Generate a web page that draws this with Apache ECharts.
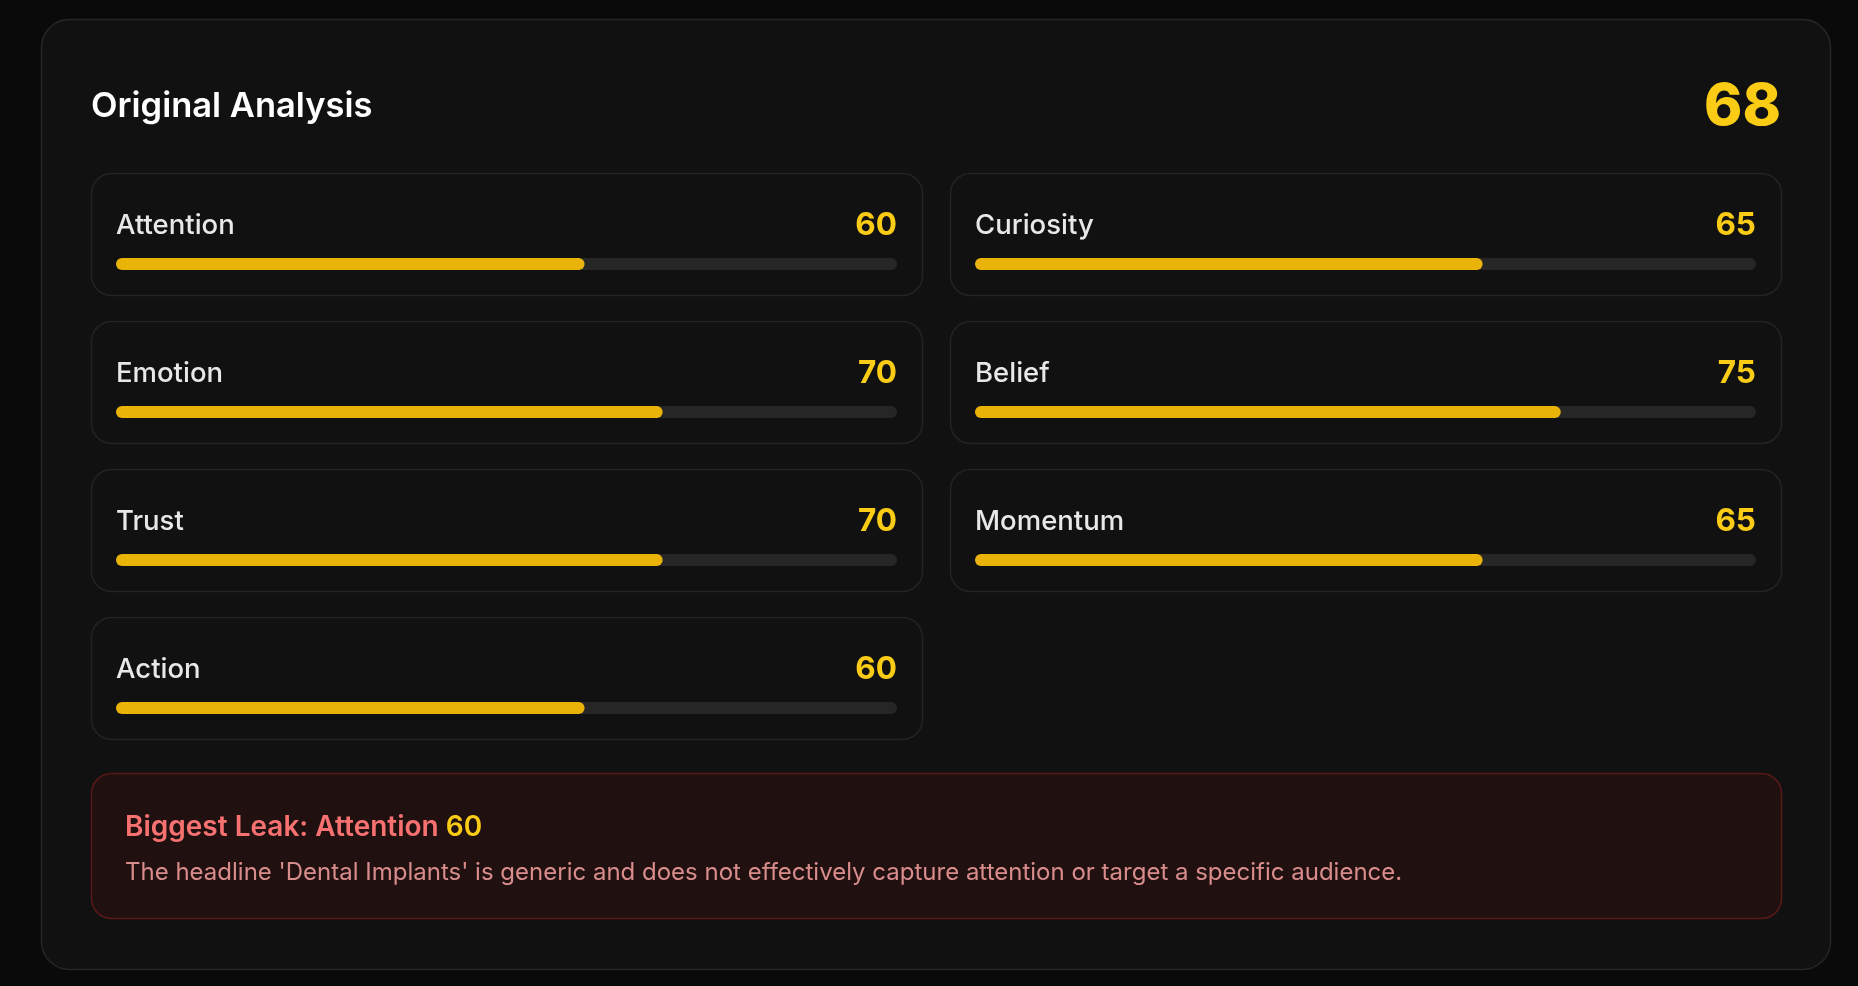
<!DOCTYPE html>
<html>
<head>
<meta charset="utf-8">
<script src="https://cdn.jsdelivr.net/npm/echarts@6/dist/echarts.min.js"></script>
<style>
html,body{margin:0;padding:0;background:#0a0a0a;width:1858px;height:986px;overflow:hidden;}
#chart{width:1858px;height:986px;}
</style>
</head>
<body>
<div id="chart"></div>
<script>
// ---- data ----
const chartTitle = 'Original Analysis';
const overallScore = 68;
const categories = ['Attention', 'Curiosity', 'Emotion', 'Belief', 'Trust', 'Momentum', 'Action'];
const scores = [60, 65, 70, 75, 70, 65, 60];
const scoreMin = 0;
const scoreMax = 100;
const leakLabel = 'Biggest Leak: Attention';
const leakScore = 60;
const leakText = "The headline 'Dental Implants' is generic and does not effectively capture attention or target a specific audience.";

// ---- layout ----
const FONT = 'Inter, "Noto Sans", sans-serif';
const outer = {x: 41, y: 19, w: 1789, h: 950};
const colX = [91, 950];
const cardW = 831, cardH = 122, rowTop = 173, rowPitch = 148;
const pad = 25;
// place text so that the cap-height centre sits at y
const capY = (y, size) => y + 0.07 * size;

const grids = [], xAxes = [], yAxes = [], series = [];
const graphics = [];

graphics.push({type: 'rect', z: 0, shape: {x: outer.x + 0.5, y: outer.y + 0.5, width: outer.w, height: outer.h, r: 28},
  style: {fill: '#111111', stroke: '#262626', lineWidth: 1.5}});
graphics.push({type: 'text', z: 5, x: 91, y: capY(104, 34.5), style: {text: chartTitle, fill: '#ffffff', font: '600 34.5px ' + FONT, verticalAlign: 'middle', align: 'left'}});
graphics.push({type: 'text', z: 5, x: 1781, y: capY(104, 58), style: {text: String(overallScore), fill: '#facc15', font: '800 58px ' + FONT, verticalAlign: 'middle', align: 'right'}});

categories.forEach((cat, i) => {
  const col = i % 2, row = Math.floor(i / 2);
  const cx = colX[col], cy = rowTop + row * rowPitch;
  graphics.push({type: 'rect', z: 1, shape: {x: cx + 0.5, y: cy + 0.5, width: cardW, height: cardH, r: 20},
    style: {fill: '#111111', stroke: '#232323', lineWidth: 1.5}});
  graphics.push({type: 'text', z: 5, x: cx + 25, y: capY(cy + 51, 27.5), style: {text: cat, fill: '#e8e8e8', font: '500 27.5px ' + FONT, verticalAlign: 'middle', align: 'left'}});
  graphics.push({type: 'text', z: 5, x: cx + cardW - pad, y: capY(cy + 50, 31.5), style: {text: String(scores[i]), fill: '#facc15', font: '700 31.5px ' + FONT, verticalAlign: 'middle', align: 'right'}});
  grids.push({left: cx + pad, top: cy + 85, width: cardW - 2 * pad, height: 12, containLabel: false});
  xAxes.push({type: 'value', gridIndex: i, min: scoreMin, max: scoreMax, show: false});
  yAxes.push({type: 'category', gridIndex: i, data: [cat], show: false});
  series.push({type: 'bar', xAxisIndex: i, yAxisIndex: i, data: [scores[i]], barWidth: 12, silent: true,
    showBackground: true, backgroundStyle: {color: '#262626', borderRadius: 6},
    itemStyle: {color: '#eab308', borderRadius: 6}});
});

// leak box
graphics.push({type: 'rect', z: 1, shape: {x: 91.5, y: 773.5, width: 1690, height: 145, r: 20},
  style: {fill: '#201010', stroke: '#5a1919', lineWidth: 1.5}});
graphics.push({type: 'text', z: 5, x: 125, y: capY(826, 28), style: {
  text: '{a|' + leakLabel + ' }{b|' + leakScore + '}', verticalAlign: 'middle', align: 'left',
  rich: {a: {fill: '#f87171', font: '600 28px ' + FONT}, b: {fill: '#facc15', font: '600 28px ' + FONT}}}});
graphics.push({type: 'text', z: 5, x: 125, y: capY(871, 24), style: {text: leakText, fill: '#d98c8c', font: '400 24px ' + FONT, verticalAlign: 'middle', align: 'left'}});

const chart = echarts.init(document.getElementById('chart'), null, {renderer: 'canvas'});
chart.setOption({
  backgroundColor: '#0a0a0a',
  animation: false,
  grid: grids,
  xAxis: xAxes,
  yAxis: yAxes,
  series: series,
  graphic: graphics
});
</script>
</body>
</html>
